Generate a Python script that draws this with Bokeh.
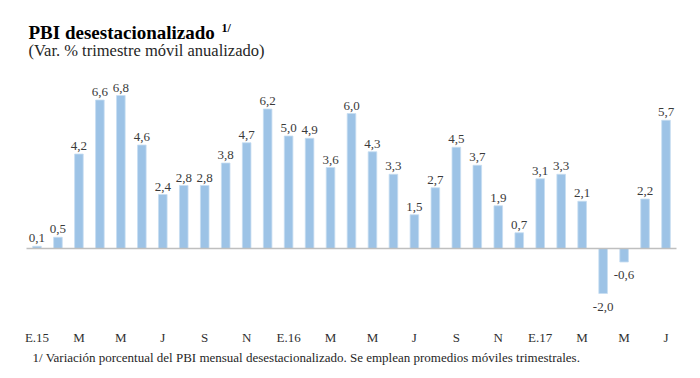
from bokeh.plotting import figure
from bokeh.models import ColumnDataSource, Label
from bokeh.core.properties import value as V
from bokeh.embed import file_html
from bokeh.resources import INLINE

# Data: monthly, Jan 2015 .. Jul 2017
values = [0.1, 0.5, 4.2, 6.6, 6.8, 4.6, 2.4, 2.8, 2.8, 3.8, 4.7, 6.2,
          5.0, 4.9, 3.6, 6.0, 4.3, 3.3, 1.5, 2.7, 4.5, 3.7, 1.9, 0.7,
          3.1, 3.3, 2.1, -2.0, -0.6, 2.2, 5.7]
tick_labels = ["E.15", "M", "M", "J", "S", "N",
               "E.16", "M", "M", "J", "S", "N",
               "E.17", "M", "M", "J"]

title_text = "PBI desestacionalizado"
title_sup = "1/"
subtitle_text = "(Var. % trimestre móvil anualizado)"
footnote_text = ("1/ Variación porcentual del PBI mensual desestacionalizado. "
                 "Se emplean promedios móviles trimestrales.")

FONT = "Liberation Serif"
BAR = "#9dc3e6"
TXT = "#3a3a3a"

W, H = 700, 378
n = len(values)
PX = 650.0 / n          # pixels per category
PY = 22.5               # pixels per unit
xr = (-0.5 - 26 / PX, -0.5 - 26 / PX + W / PX)
yr = (248 / PY - H / PY, 248 / PY)

xs = list(range(n))
labels = [f"{v:.1f}".replace(".", ",") for v in values]

pos = ColumnDataSource(dict(x=[x for x, v in zip(xs, values) if v >= 0],
                            y=[v for v in values if v >= 0],
                            t=[l for l, v in zip(labels, values) if v >= 0]))
neg = ColumnDataSource(dict(x=[x for x, v in zip(xs, values) if v < 0],
                            y=[v for v in values if v < 0],
                            t=[l for l, v in zip(labels, values) if v < 0]))
src = ColumnDataSource(dict(x=xs, top=values))
ticks = ColumnDataSource(dict(x=list(range(0, n, 2)),
                              y=[0] * len(tick_labels), t=tick_labels))

p = figure(width=W, height=H, x_range=xr, y_range=yr,
           output_backend="svg", toolbar_location=None,
           min_border=0, min_border_left=0, min_border_right=0,
           min_border_top=0, min_border_bottom=0)
p.outline_line_color = None
p.background_fill_color = "white"
p.border_fill_color = "white"
p.xgrid.visible = False
p.ygrid.visible = False
p.xaxis.visible = False
p.yaxis.visible = False

p.vbar(x="x", top="top", bottom=0, width=0.41, source=src,
       fill_color=BAR, line_color="#c6ddf1", line_width=0.8)

# zero line across the category span
p.segment(x0=[-0.5], y0=[0], x1=[n - 0.5], y1=[0],
          line_color="#bfbfbf", line_width=1.5)

p.text(x="x", y="y", text="t", source=pos, text_align="center",
       text_baseline="alphabetic", y_offset=-8, text_font=V(FONT),
       text_font_size="13px", text_color=TXT)
p.text(x="x", y="y", text="t", source=neg, text_align="center",
       text_baseline="top", y_offset=9, text_font=V(FONT),
       text_font_size="13px", text_color=TXT)

# category labels (x axis)
p.text(x="x", y="y", text="t", source=ticks, text_align="center",
       text_baseline="alphabetic", y_offset=89, text_font=V(FONT),
       text_font_size="13px", text_color="#303030")

p.add_layout(Label(x=28, y=H - 32, x_units="screen", y_units="screen",
                   text=title_text, text_font=FONT, text_font_style="bold",
                   text_font_size="19px", text_color="#000000",
                   text_baseline="alphabetic"))
p.add_layout(Label(x=221, y=H - 27, x_units="screen", y_units="screen",
                   text=title_sup, text_font=FONT, text_font_style="bold",
                   text_font_size="12px", text_color="#000000",
                   text_baseline="alphabetic"))
p.add_layout(Label(x=28, y=H - 50, x_units="screen", y_units="screen",
                   text=subtitle_text, text_font=FONT,
                   text_font_size="16.5px", text_color="#262626",
                   text_baseline="alphabetic"))
p.add_layout(Label(x=32, y=H - 357, x_units="screen", y_units="screen",
                   text=footnote_text, text_font=FONT,
                   text_font_size="13px", text_color="#262626",
                   text_baseline="alphabetic"))

open("out.html", "w").write(file_html(p, INLINE))
